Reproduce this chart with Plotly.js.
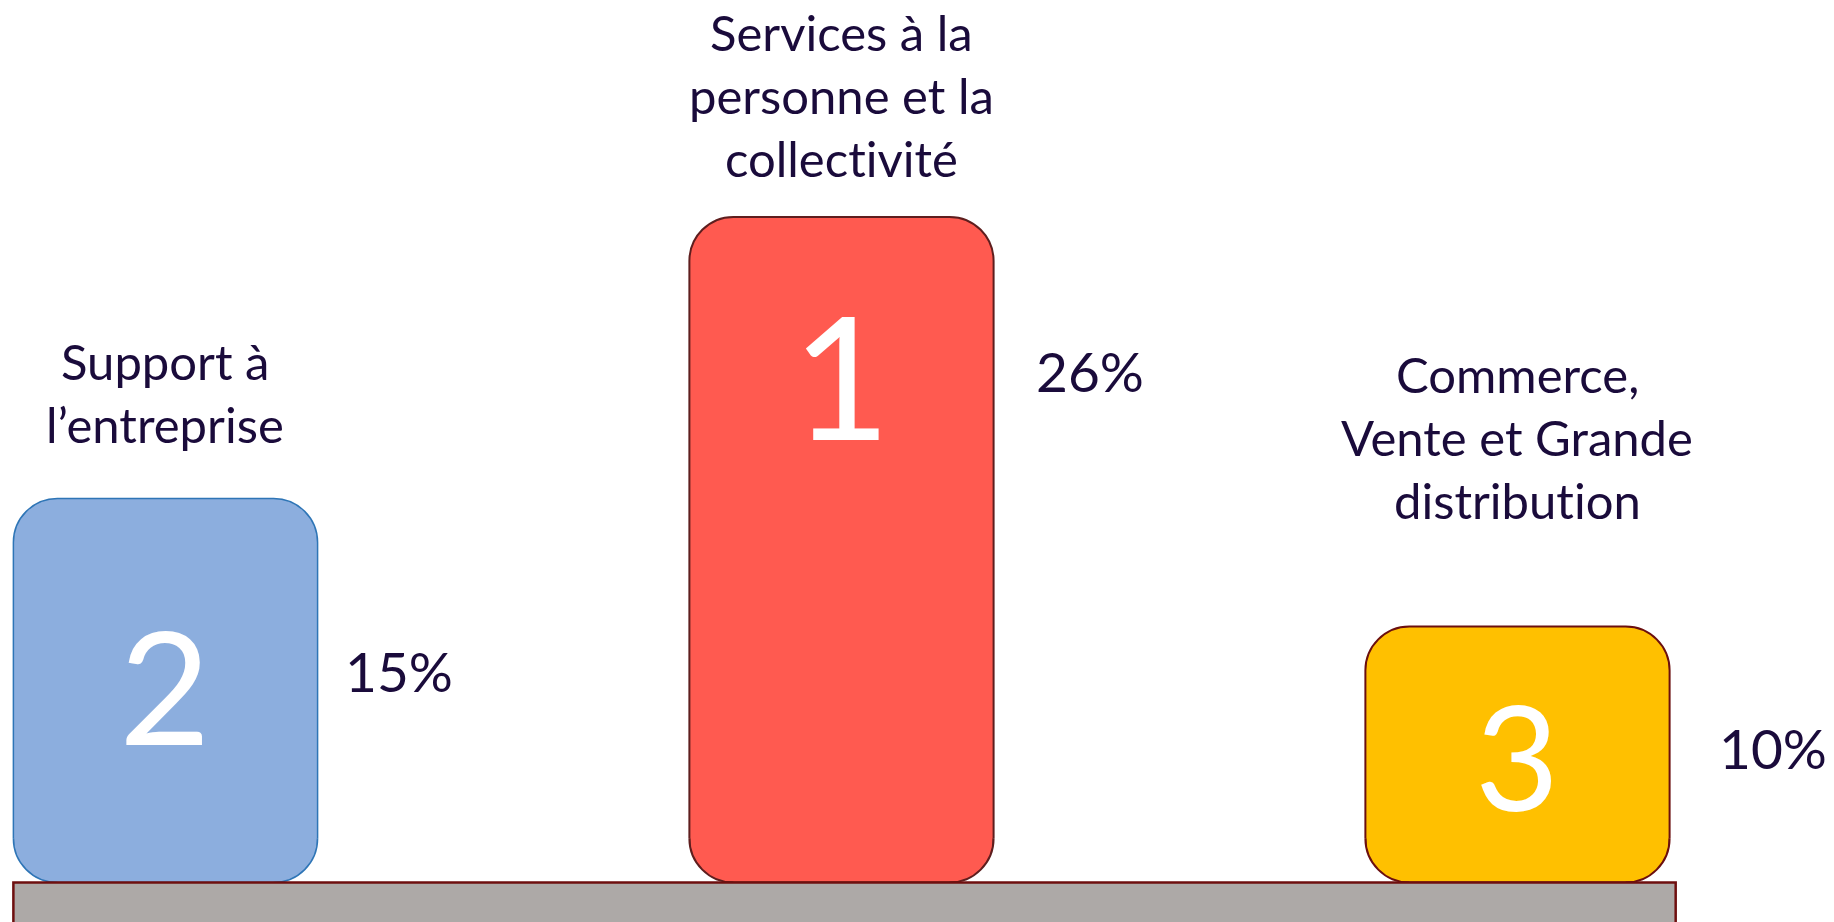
<!DOCTYPE html>
<html><head><meta charset="utf-8">
<script src="https://cdn.plot.ly/plotly-3.0.1.min.js"></script>
<style>html,body{margin:0;padding:0;background:#fff;overflow:hidden}#chart{width:1834px;height:922px}
text{font-variant-ligatures:none !important;font-feature-settings:"liga" 0,"clig" 0 !important}</style>
</head><body><div id="chart"></div>
<script>
// ---- data ----
const categories = ["Support à l’entreprise", "Services à la personne et la collectivité", "Commerce, Vente et Grande distribution"];
const labelLines = [["Support à", "l’entreprise"], ["Services à la", "personne et la", "collectivité"], ["Commerce,", "Vente et Grande", "distribution"]];
const shares = [15, 26, 10];          // %
const ranks = ["2", "1", "3"];

// ---- style ----
const FONT = 'Lato, "Open Sans", sans-serif';
const TEXT = '#1A0B3B';
const barColors = ['#8CAEDE', '#FF5A50', '#FFC000'];
const barLines = ['#2E75B6', '#5E1E1E', '#6B0F0F'];
const barLineW = [1.5, 2, 2];
const barWidth = 0.45;
const radius = 44;
const labelGap = [75, 59, 127];   // px from bar top to last label line centre
const lineStep = 63;
const labelSize = 49;
const pctDrop = [172.5, 154, 121];
const pctGapX = [25.5, 40, 47.5];
const pctSize = 55;
const rankDrop = [185, 157, 128.5];
const rankSize = [158, 170, 145];

const bars = {
  type: 'bar', x: categories, y: shares, width: barWidth,
  marker: {color: barColors, cornerradius: radius, line: {color: barLines, width: barLineW}},
  hoverinfo: 'skip', showlegend: false
};

const annotations = [];
const shapes = [];
categories.forEach((c, i) => {
  const lines = labelLines[i];
  lines.forEach((t, j) => {
    annotations.push({x: i, y: shares[i], xref: 'x', yref: 'y', text: t, showarrow: false,
      xanchor: 'center', yanchor: 'middle', yshift: labelGap[i] + (lines.length - 1 - j) * lineStep,
      font: {family: FONT, size: labelSize, color: TEXT}});
  });
  annotations.push({x: i + barWidth / 2, y: shares[i], xref: 'x', yref: 'y', text: shares[i] + '%', showarrow: false,
    xanchor: 'left', yanchor: 'middle', xshift: pctGapX[i], yshift: -pctDrop[i],
    font: {family: FONT, size: pctSize, color: TEXT}});
  annotations.push({x: i, y: shares[i], xref: 'x', yref: 'y', text: ranks[i], showarrow: false,
    xanchor: 'center', yanchor: 'middle', yshift: -rankDrop[i],
    font: {family: FONT, size: rankSize[i], color: '#FFFFFF'}});

  // rounded bottom corners
  const r = radius, q = (0.4477 * r).toFixed(2);
  [[-1, i - barWidth / 2], [1, i + barWidth / 2]].forEach(([side, xa]) => {
    const s = -side; // direction into bar
    const mask = `M ${2 * side},-1 L ${2 * side},${r} L 0,${r} C 0,${q} ${s * q},0 ${s * r},0 L ${s * r},-1 Z`;
    const arc = `M 0,${r} C 0,${q} ${s * q},0 ${s * r},0`;
    shapes.push({type: 'path', xref: 'x', yref: 'y', xsizemode: 'pixel', ysizemode: 'pixel',
      xanchor: xa, yanchor: 0, path: mask, fillcolor: '#FFFFFF', line: {width: 0}, layer: 'above'});
    shapes.push({type: 'path', xref: 'x', yref: 'y', xsizemode: 'pixel', ysizemode: 'pixel',
      xanchor: xa, yanchor: 0, path: arc, fillcolor: 'rgba(0,0,0,0)', line: {color: barLines[i], width: barLineW[i]}, layer: 'above'});
  });
});

// podium base
shapes.push({type: 'rect', xref: 'x', yref: 'y', x0: -barWidth / 2, x1: categories.length - 1 + barWidth / 2 + 0.009,
  y0: 0, y1: -5, fillcolor: '#ADA9A7', line: {color: '#6E0F0F', width: 2.5}, layer: 'above'});

const layout = {
  width: 1834, height: 922, margin: {l: 0, r: 0, t: 0, b: 0, pad: 0},
  paper_bgcolor: '#FFFFFF', plot_bgcolor: '#FFFFFF', showlegend: false, hovermode: false,
  xaxis: {type: 'category', categoryorder: 'array', categoryarray: categories, range: [-0.2448, 2.4682],
    visible: false, fixedrange: true},
  yaxis: {range: [-1.543, 34.473], visible: false, fixedrange: true},
  annotations, shapes
};
Plotly.newPlot('chart', [bars], layout, {staticPlot: true, displayModeBar: false});
</script></body></html>
